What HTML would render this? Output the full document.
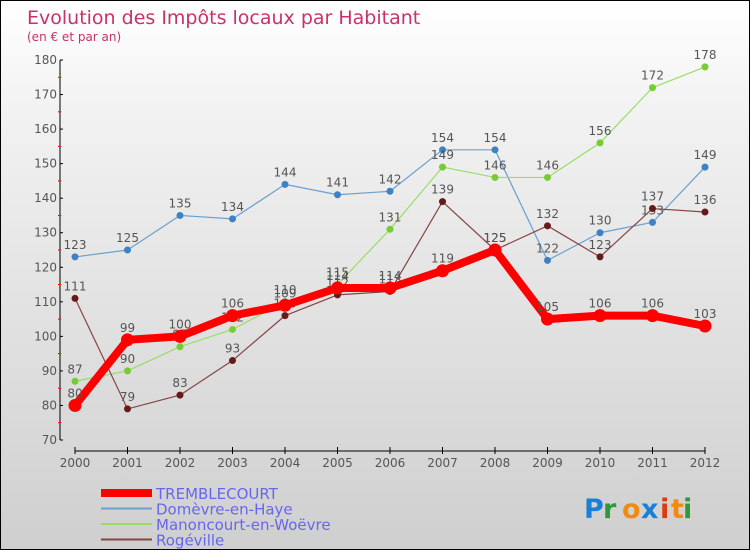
<!DOCTYPE html>
<html><head><meta charset="utf-8"><style>
body{margin:0}
#c{width:748px;height:548px;border:1px solid #000;background:linear-gradient(#fff,#f2f2f2 20%,#cfcfcf);position:relative;font-family:"DejaVu Sans","Liberation Sans",sans-serif;overflow:hidden}
</style></head><body>
<div id="c">
<svg id="s" width="748" height="548"></svg>
</div>
<script>
const years=[2000,2001,2002,2003,2004,2005,2006,2007,2008,2009,2010,2011,2012];
const yTicks=[70,80,90,100,110,120,130,140,150,160,170,180];
const tremblecourt=[80,99,100,106,109,114,114,119,125,105,106,106,103];
const domevre=[123,125,135,134,144,141,142,154,154,122,130,133,149];
const manoncourt=[87,90,97,102,110,115,131,149,146,146,156,172,178];
const rogeville=[111,79,83,93,106,112,113,139,125,132,123,137,136];
const NS='http://www.w3.org/2000/svg';
const s=document.getElementById('s');
const X=i=>74+i*52.5;
const Y=v=>439-(v-70)*(380/110);
function el(t,a,p){const e=document.createElementNS(NS,t);for(const k in a)e.setAttribute(k,a[k]);(p||s).appendChild(e);return e;}
let t=el('text',{x:26,y:23,'font-size':19,fill:'#c8326a'});t.textContent='Evolution des Impôts locaux par Habitant';

t=el('text',{x:26,y:40,'font-size':12,fill:'#c8326a'});t.textContent='(en € et par an)';

let a=el('line',{x1:59,y1:Y(180),x2:59,y2:Y(70),stroke:'#000'});

yTicks.forEach(v=>{el('line',{x1:59,y1:Y(v),x2:62,y2:Y(v),stroke:'#000'});
 if(v<180)el('line',{x1:57,y1:Y(v+5),x2:60,y2:Y(v+5),stroke:'#f00'});
 const l=el('text',{x:56,y:Y(v)+4,'font-size':12,fill:'#555','text-anchor':'end'});l.textContent=v;
 });
a=el('line',{x1:X(0),y1:450,x2:X(12),y2:450,stroke:'#000'});

years.forEach((y,i)=>{el('line',{x1:X(i),y1:446,x2:X(i),y2:453,stroke:'#000'});
 const l=el('text',{x:X(i),y:466,'font-size':12,fill:'#555','text-anchor':'middle'});l.textContent=y;
 });
function series(d,color,w,r,dot,name){
 const g=el('g',{});
 el('polyline',{points:d.map((v,i)=>X(i)+','+Y(v)).join(' '),fill:'none',stroke:color,'stroke-width':w,'stroke-linejoin':'round'},g);
 d.forEach((v,i)=>{const c=el('circle',{cx:X(i),cy:Y(v),r:r,fill:dot},g);
  
  const l=el('text',{x:X(i),y:Y(v)-8,'font-size':12,fill:'#555','text-anchor':'middle'},g);l.textContent=v;
  });
}
series(domevre,'#6aa0d0',1.2,3.5,'#3d82c4','domevre-series');
series(manoncourt,'#99dd66',1.2,3.5,'#77cc33','manoncourt-series');
series(rogeville,'#884444',1.2,3.5,'#661a1a','rogeville-series');
series(tremblecourt,'#f00',8,6.5,'#f00','tremblecourt-series');
const leg=[['TREMBLECOURT','#f00',8],['Domèvre-en-Haye','#6aa0d0',2],['Manoncourt-en-Woëvre','#99dd66',2],['Rogéville','#884444',2]];
leg.forEach((e,i)=>{const y=492+i*15.5;const g=el('g',{});
 
 el('line',{x1:100,y1:y,x2:151,y2:y,stroke:e[1],'stroke-width':e[2]},g);
 const l=el('text',{x:155,y:y+6,'font-size':15,fill:'#6666ee'},g);l.textContent=e[0];});
const brand=[['P','#1a7fd6'],['r','#2a9a3a'],['o','#f08a10'],['x','#1a7fd6'],['i','#e03a10'],['t','#f08a10'],['i','#2a9a3a']];
let bx=583;brand.forEach(b=>{const l=el('text',{x:bx,y:517,'font-size':27,'font-weight':'bold',fill:b[1]});l.textContent=b[0];
 bx+=b[0]=='i'?11:b[0]=='t'?12:19;});
</script>
</body></html>
